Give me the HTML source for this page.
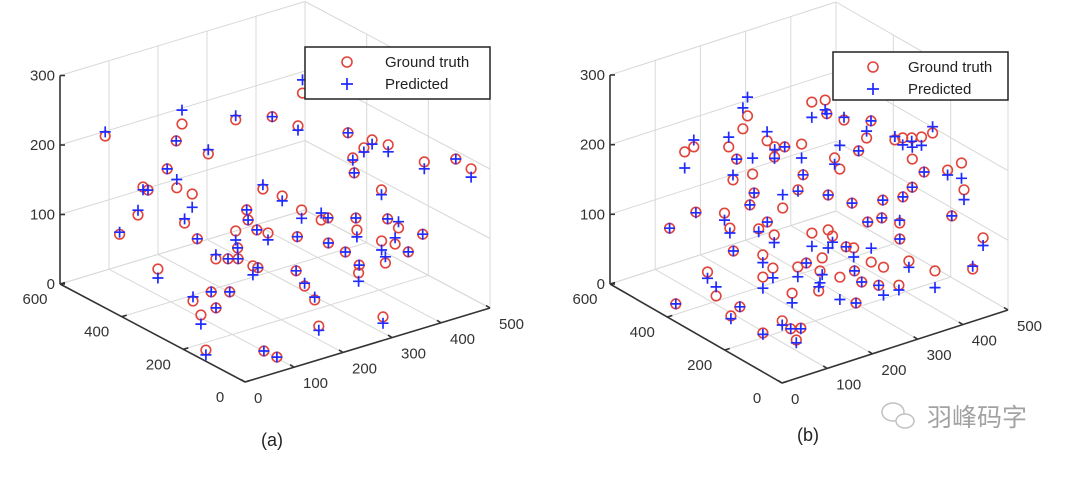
<!DOCTYPE html>
<html><head><meta charset="utf-8">
<style>
html,body{margin:0;padding:0;background:#fff;}
svg{display:block;}
text{font-family:"Liberation Sans",sans-serif;}
</style></head>
<body>
<svg id="chart" width="1080" height="484" viewBox="0 0 1080 484" xmlns="http://www.w3.org/2000/svg">
<rect width="1080" height="484" fill="#fff"/>
<g id="panelA"></g>
<g id="panelB"></g>
<text x="272" y="446" font-size="18" text-anchor="middle" fill="#222">(a)</text>
<text x="808" y="441" font-size="18" text-anchor="middle" fill="#222">(b)</text>
<g opacity="0.6">
<ellipse cx="893" cy="412" rx="11" ry="9" fill="none" stroke="#999" stroke-width="1.5"/>
<ellipse cx="905" cy="421" rx="9" ry="7" fill="#fff" stroke="#999" stroke-width="1.5"/>
<text x="927" y="426" font-size="25" fill="#666" style="font-family:'Liberation Sans','Noto Sans CJK SC',sans-serif">羽峰码字</text>
</g>
</svg>
<script>
const xTicks = [0,100,200,300,400,500];
const yTicks = [0,200,400,600];
const zTicks = [0,100,200,300];

const aTrueX = [55,159,144,256,294,322,323,188,132,132,73,89,205,83,46,158,170,241,266,220,214,218,225,205,200,179,195,208,210,212,288,291,309,323,330,347,254,262,258,216,353,349,348,371,384,393,393,359,348,381,390,370,380,372,395,406,415,446,476,333,330,322,113,114,143,167,127,90,19,92,94];
const aTrueY = [541,457,452,437,379,340,327,418,462,431,447,456,497,479,480,447,425,325,302,344,330,308,283,356,342,379,365,353,308,295,288,279,244,244,254,226,238,223,184,104,227,205,199,204,198,160,182,211,190,143,122,145,117,136,98,69,78,25,23,159,156,64,462,350,337,315,296,286,157,85,46];
const aTrueZ = [215,230,210,220,230,220,270,190,170,150,160,150,110,110,90,90,70,150,140,120,110,100,100,90,70,50,50,50,50,50,80,120,110,110,70,60,50,30,20,10,230,200,180,210,220,220,150,110,100,120,110,90,90,60,80,110,210,220,200,60,50,10,30,10,20,20,10,10,5,5,5];
const aPredX = [55,159,144,256,294,322,323,188,132,132,73,89,205,83,46,158,170,241,266,220,214,218,225,205,200,179,195,208,210,212,288,291,309,323,330,347,254,262,258,216,353,349,348,371,384,393,393,359,348,381,390,370,380,372,395,406,415,446,476,333,330,322,113,114,143,167,127,90,19,92,94];
const aPredY = [541,457,452,437,379,340,327,418,462,431,447,456,497,479,480,447,425,325,302,344,330,308,283,356,342,379,365,353,308,295,288,279,244,244,254,226,238,223,184,104,227,205,199,204,198,160,182,211,190,143,122,145,117,136,98,69,78,25,23,159,156,64,462,350,337,315,296,286,157,85,46];
const aPredZ = [221,250,210,226,230,214,289,196,170,162,156,150,91,117,93,96,70,156,133,120,110,100,90,77,70,56,50,50,37,50,80,108,120,110,70,60,50,34,24,4,230,197,180,204,214,210,143,110,90,120,119,77,99,69,80,110,200,220,188,60,38,1,17,16,20,20,10,-3,-2,5,5];

const bTrueX = [88,96,137,176,197,144,139,164,215,228,220,242,273,305,329,332,358,268,320,317,354,380,377,93,59,131,136,136,170,171,209,241,271,302,336,355,375,395,393,381,397,410,426,443,433,453,459,429,471,448,312,342,355,350,360,407,338,326,304,297,289,271,262,240,182,187,175,168,148,167,205,227,245,244,227,184,274,293,293,276,309,99,78,27,67,85,79,119,120,136,109];
const bTrueY = [478,459,402,414,431,385,390,361,391,385,373,372,362,377,368,367,348,349,321,298,291,304,284,447,485,407,396,384,380,367,327,324,266,232,178,138,137,127,165,207,205,194,185,173,105,88,89,84,41,41,193,191,149,141,125,108,125,160,168,218,232,266,237,274,314,346,357,332,300,295,268,273,246,252,230,255,230,209,184,177,150,416,353,413,284,281,191,187,159,149,122];
const bTrueZ = [200,210,215,230,240,200,170,180,210,200,190,200,200,250,250,230,220,160,180,170,190,200,230,120,95,120,100,70,130,150,130,150,150,140,150,160,170,190,200,220,220,220,220,225,190,200,160,130,100,60,120,120,120,100,70,50,40,60,70,80,80,100,100,100,100,110,100,70,50,60,60,60,70,50,30,30,40,50,40,15,40,40,25,10,15,25,10,20,15,15,10];
const bPredX = [88,96,137,176,197,144,139,164,215,228,220,242,273,305,329,332,358,268,320,317,354,380,377,93,59,131,136,136,170,171,209,241,271,302,336,355,375,395,393,381,397,410,426,443,433,453,459,429,471,448,312,342,355,350,360,407,338,326,304,297,289,271,262,240,182,187,175,168,148,167,205,227,245,244,227,184,274,293,293,276,309,99,78,27,67,85,79,119,120,136,109];
const bPredY = [478,459,402,414,431,385,390,361,391,385,373,372,362,377,368,367,348,349,321,298,291,304,284,447,485,407,396,384,380,367,327,324,266,232,178,138,137,127,165,207,205,194,185,173,105,88,89,84,41,41,193,191,149,141,125,108,125,160,168,218,232,266,237,274,314,346,357,332,300,295,268,273,246,252,230,255,230,209,184,177,150,416,353,413,284,281,191,187,159,149,122];
const bPredZ = [177,220,229,260,267,200,177,203,223,196,188,200,180,228,236,230,224,160,171,204,190,210,230,119,95,110,93,70,130,150,149,148,150,140,150,160,170,190,217,225,210,215,208,234,183,178,146,130,89,64,120,120,124,100,61,26,33,20,90,67,80,74,91,81,89,110,96,59,34,46,46,60,46,33,36,16,8,50,40,15,40,31,38,10,11,25,8,14,15,14,6];

const NS = "http://www.w3.org/2000/svg";
function mk(parent, tag, attrs) {
  const e = document.createElementNS(NS, tag);
  for (const k in attrs) e.setAttribute(k, attrs[k]);
  parent.appendChild(e);
  return e;
}

function drawPanel(g, geo, tx, ty, tz, px, py, pz, legend) {
  const P = (x, y, z) => [geo.ox + x * geo.exx + y * geo.eyx, geo.oy + x * geo.exy + y * geo.eyy - z * geo.ez];
  const X1 = 500, Y1 = 600, Z1 = 300;
  const grid = mk(g, 'g', {stroke: '#d8d8d8', 'stroke-width': 1, fill: 'none'});
  
  
  const line = (par, a, b) => mk(par, 'line', {x1: a[0].toFixed(1), y1: a[1].toFixed(1), x2: b[0].toFixed(1), y2: b[1].toFixed(1)});
  // floor grid
  xTicks.forEach(x => line(grid, P(x, 0, 0), P(x, Y1, 0)));
  yTicks.forEach(y => line(grid, P(0, y, 0), P(X1, y, 0)));
  // back wall y=600
  xTicks.forEach(x => line(grid, P(x, Y1, 0), P(x, Y1, Z1)));
  zTicks.forEach(z => line(grid, P(0, Y1, z), P(X1, Y1, z)));
  // side wall x=500
  yTicks.forEach(y => line(grid, P(X1, y, 0), P(X1, y, Z1)));
  zTicks.forEach(z => line(grid, P(X1, 0, z), P(X1, Y1, z)));

  const ax = mk(g, 'g', {stroke: '#333', 'stroke-width': 1.6, fill: 'none'});
  
  
  line(ax, P(0, Y1, 0), P(0, Y1, Z1));
  line(ax, P(0, 0, 0), P(0, Y1, 0));
  line(ax, P(0, 0, 0), P(X1, 0, 0));

  const lab = mk(g, 'g', {'font-size': 15, fill: '#333'});
  
  
  zTicks.forEach(z => {
    const p = P(0, Y1, z);
    line(ax, p, [p[0] + 5, p[1]]);
    const t = mk(lab, 'text', {x: (p[0] - 5).toFixed(1), y: (p[1] + 5).toFixed(1), 'text-anchor': 'end'});
    
    
    t.textContent = z;
  });
  yTicks.forEach(y => {
    const p = P(0, y, 0);
    line(ax, p, [p[0] + 5, p[1] - 1.5]);
    const t = mk(lab, 'text', {x: (p[0] - 25).toFixed(1), y: (p[1] + 20).toFixed(1), 'text-anchor': 'middle'});
    
    
    t.textContent = y;
  });
  xTicks.forEach(x => {
    const p = P(x, 0, 0);
    line(ax, p, [p[0] - 4, p[1] - 2.5]);
    const t = mk(lab, 'text', {x: (p[0] + 9).toFixed(1), y: (p[1] + 21).toFixed(1), 'text-anchor': 'start'});
    
    
    t.textContent = x;
  });

  const gt = mk(g, 'g', {stroke: '#e0443a', 'stroke-width': 1.6, fill: 'none'});
  
  
  for (let i = 0; i < tx.length; i++) {
    const p = P(tx[i], ty[i], tz[i]);
    const c = mk(gt, 'circle', {cx: p[0].toFixed(1), cy: p[1].toFixed(1), r: 4.8});
    
    
  }
  const pr = mk(g, 'g', {stroke: '#1f2bff', 'stroke-width': 1.7, fill: 'none'});
  
  
  for (let i = 0; i < px.length; i++) {
    const p = P(px[i], py[i], pz[i]);
    const pp = mk(pr, 'path', {d: `M${(p[0]-5.5).toFixed(1)} ${p[1].toFixed(1)}h11M${p[0].toFixed(1)} ${(p[1]-5.5).toFixed(1)}v11`});
    
    
  }

  const lg = mk(g, 'g', {});
  
  
  mk(lg, 'rect', {x: legend.x, y: legend.y, width: legend.w, height: legend.h, fill: '#fff', stroke: '#222', 'stroke-width': 1.5});
  const cx = legend.x + legend.mx;
  const e1 = mk(lg, 'circle', {cx: cx, cy: legend.y + 15, r: 5, fill: 'none', stroke: '#e0443a', 'stroke-width': 1.6});
  
  
  const e2 = mk(lg, 'path', {d: `M${cx-6} ${legend.y+37}h12M${cx} ${legend.y+31}v12`, stroke: '#1f2bff', 'stroke-width': 1.7});
  
  
  const t1 = mk(lg, 'text', {x: legend.x + legend.tx, y: legend.y + 20, 'font-size': 15, fill: '#222'});
  
  
  t1.textContent = 'Ground truth';
  const t2 = mk(lg, 'text', {x: legend.x + legend.tx, y: legend.y + 42, 'font-size': 15, fill: '#222'});
  
  
  t2.textContent = 'Predicted';
}

drawPanel(document.getElementById('panelA'),
  {ox: 245, oy: 382, exx: 0.49, exy: -0.148, eyx: -0.3083, eyy: -0.1633, ez: 0.695},
  aTrueX, aTrueY, aTrueZ, aPredX, aPredY, aPredZ,
  {x: 305, y: 47, w: 185, h: 52, mx: 42, tx: 80});
drawPanel(document.getElementById('panelB'),
  {ox: 782, oy: 383, exx: 0.452, exy: -0.146, eyx: -0.2867, eyy: -0.165, ez: 0.6967},
  bTrueX, bTrueY, bTrueZ, bPredX, bPredY, bPredZ,
  {x: 833, y: 52, w: 175, h: 48, mx: 40, tx: 75});
</script>
</body></html>
